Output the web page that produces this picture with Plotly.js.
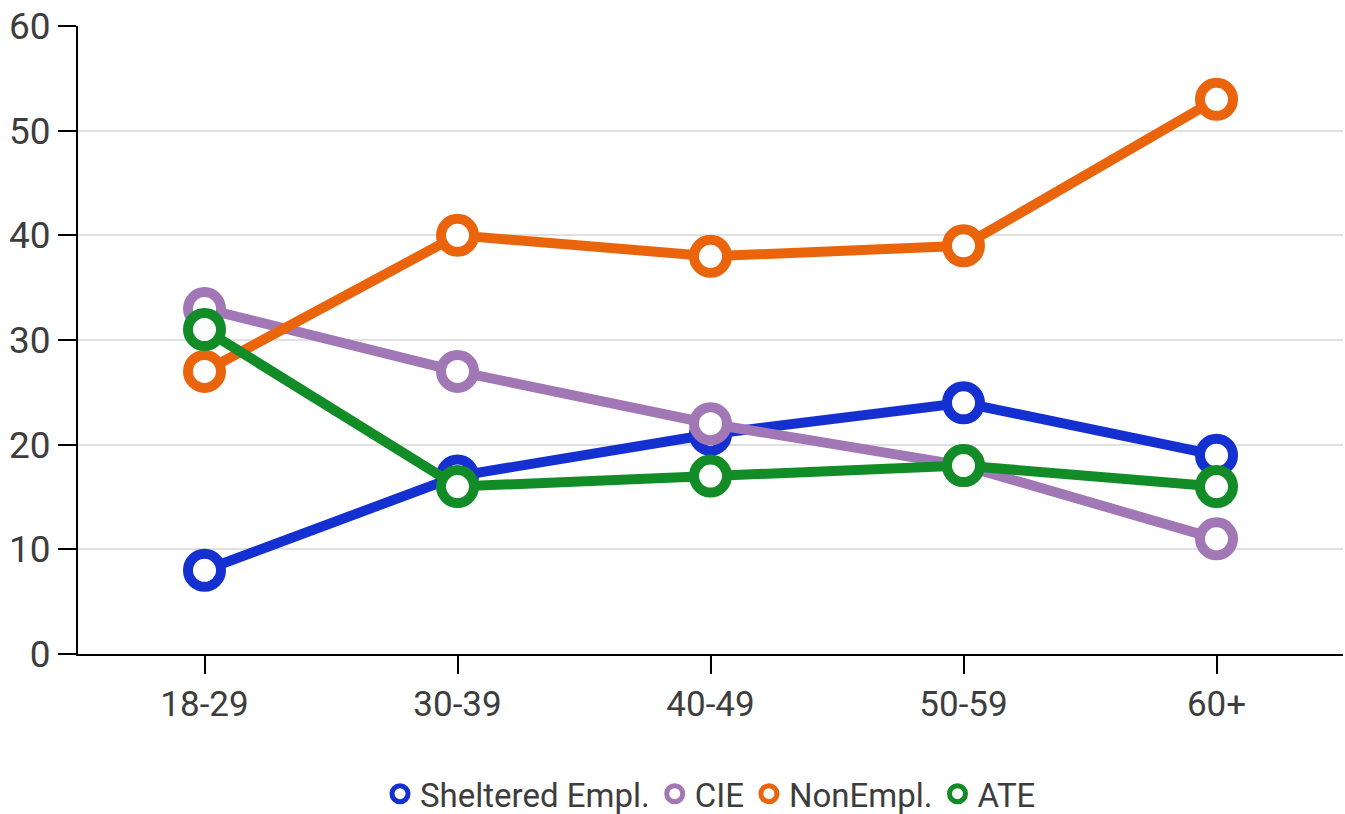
<!DOCTYPE html>
<html>
<head>
<meta charset="utf-8">
<script src="https://cdn.plot.ly/plotly-3.0.1.min.js"></script>
<style>html,body{margin:0;padding:0;background:#fff;}#chart{width:1345px;height:814px;}</style>
</head>
<body>
<div id="chart"></div>
<script>
const categories = ["18-29", "30-39", "40-49", "50-59", "60+"];
const shelteredEmpl = [8, 17, 21, 24, 19];
const cie = [33, 27, 22, 18, 11];
const nonEmpl = [27, 40, 38, 39, 53];
const ate = [31, 16, 17, 18, 16];
const seriesNames = ["Sheltered Empl.", "CIE", "NonEmpl.", "ATE"];
const seriesColors = ["#1530d0", "#a177b6", "#ea640c", "#118c26"];
const seriesValues = [shelteredEmpl, cie, nonEmpl, ate];

const traces = seriesValues.map((vals, i) => ({
  type: "scatter",
  mode: "lines+markers",
  name: seriesNames[i],
  legendgroup: seriesNames[i],
  showlegend: false,
  x: categories,
  y: vals,
  line: {color: seriesColors[i], width: 10},
  marker: {size: 33, color: "#ffffff", line: {color: seriesColors[i], width: 10}},
  cliponaxis: false
}));
// legend entries: ring markers only, as in the reference
seriesNames.forEach((name, i) => traces.push({
  type: "scatter",
  mode: "markers",
  name: name,
  legendgroup: name,
  showlegend: true,
  x: [null],
  y: [null],
  marker: {size: 16, color: "#ffffff", line: {color: seriesColors[i], width: 5}}
}));

const font = {family: "Roboto, sans-serif", color: "#3d3d3d"};
const layout = {
  width: 1345, height: 814,
  margin: {l: 78, r: 2, t: 26, b: 160, autoexpand: false},
  paper_bgcolor: "#fff", plot_bgcolor: "#fff",
  showlegend: true,
  legend: {orientation: "h", x: 0.5, xanchor: "center", y: -0.178, yanchor: "top",
           font: Object.assign({size: 33}, font), itemwidth: 30, tracegroupgap: 0},
  xaxis: {type: "category", range: [-0.5, 4.5], showline: true, linecolor: "#000", linewidth: 2,
          ticks: "outside", ticklen: 18, tickwidth: 2, tickcolor: "#000", showgrid: false,
          tickfont: Object.assign({size: 35}, font), zeroline: false, automargin: false},
  yaxis: {range: [0, 60], dtick: 10, showline: true, linecolor: "#000", linewidth: 2,
          ticks: "outside", ticklen: 18, tickwidth: 2, tickcolor: "#000",
          gridcolor: "#e0e0e0", gridwidth: 2, zeroline: false, automargin: false,
          tickfont: Object.assign({size: 37}, font)}
};
Plotly.newPlot("chart", traces, layout, {displayModeBar: false, staticPlot: true});
</script>
</body>
</html>
